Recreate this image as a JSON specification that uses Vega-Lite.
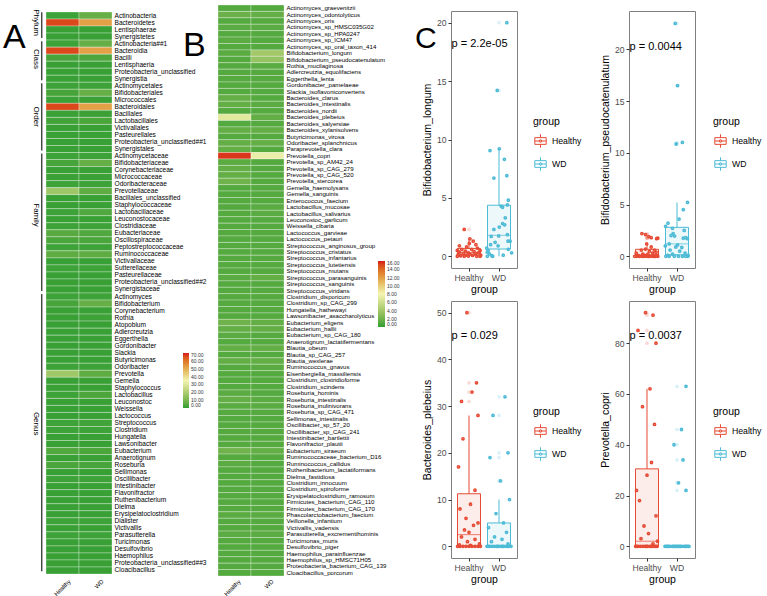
{
"$schema": "https://vega.github.io/schema/vega-lite/v6.json",
"padding": {"left": 3, "top": 4, "right": 0, "bottom": 0},
"background": "white",
"bounds": "flush",
"spacing": 106,
"config": {"view": {"stroke": null}, "font": "Liberation Sans", "axis": {"grid": false}},
"resolve": {"scale": {"color": "independent"}, "legend": {"color": "independent"}},
"datasets": {
"brk": [
{"lvl": "Phylum", "s": 0.05, "e": 3.7, "m": 1.5},
{"lvl": "Class", "s": 4.15, "e": 9.7, "m": 6.7},
{"lvl": "Order", "s": 10.15, "e": 19.7, "m": 14.9},
{"lvl": "Family", "s": 20.15, "e": 39.7, "m": 28.9},
{"lvl": "Genus", "s": 40.15, "e": 79.6, "m": 58.6}
],
"a": [
{"t": "Actinobacteria", "Healthy": 1.5, "WD": 7},
{"t": "Bacteroidetes", "Healthy": 66, "WD": 52},
{"t": "Lentisphaerae", "Healthy": 1, "WD": 1},
{"t": "Synergistetes", "Healthy": 1, "WD": 1},
{"t": "Actinobacteria##1", "Healthy": 1.5, "WD": 7},
{"t": "Bacteroidia", "Healthy": 66, "WD": 52},
{"t": "Bacilli", "Healthy": 2.5, "WD": 3.5},
{"t": "Lentisphaeria", "Healthy": 1, "WD": 1},
{"t": "Proteobacteria_unclassified", "Healthy": 1, "WD": 1},
{"t": "Synergistia", "Healthy": 1, "WD": 1},
{"t": "Actinomycetales", "Healthy": 1.5, "WD": 1.5},
{"t": "Bifidobacteriales", "Healthy": 2.5, "WD": 7},
{"t": "Micrococcales", "Healthy": 1.2, "WD": 1.2},
{"t": "Bacteroidales", "Healthy": 66, "WD": 52},
{"t": "Bacillales", "Healthy": 1.2, "WD": 1.2},
{"t": "Lactobacillales", "Healthy": 2, "WD": 3},
{"t": "Victivallales", "Healthy": 1, "WD": 1},
{"t": "Pasteurellales", "Healthy": 1, "WD": 1},
{"t": "Proteobacteria_unclassified##1", "Healthy": 1, "WD": 1},
{"t": "Synergistales", "Healthy": 1, "WD": 1},
{"t": "Actinomycetaceae", "Healthy": 1.5, "WD": 1.5},
{"t": "Bifidobacteriaceae", "Healthy": 2.5, "WD": 7},
{"t": "Corynebacteriaceae", "Healthy": 1, "WD": 1},
{"t": "Micrococcaceae", "Healthy": 1.2, "WD": 1.2},
{"t": "Odoribacteraceae", "Healthy": 1.5, "WD": 1.5},
{"t": "Prevotellaceae", "Healthy": 17, "WD": 6},
{"t": "Bacillales_unclassified", "Healthy": 1, "WD": 1},
{"t": "Staphylococcaceae", "Healthy": 1, "WD": 1},
{"t": "Lactobacillaceae", "Healthy": 1.5, "WD": 4},
{"t": "Leuconostocaceae", "Healthy": 1, "WD": 1},
{"t": "Clostridiaceae", "Healthy": 1.5, "WD": 1.5},
{"t": "Eubacteriaceae", "Healthy": 5, "WD": 4},
{"t": "Oscillospiraceae", "Healthy": 3, "WD": 3},
{"t": "Peptostreptococcaceae", "Healthy": 1.5, "WD": 1.5},
{"t": "Ruminococcaceae", "Healthy": 6, "WD": 6},
{"t": "Victivallaceae", "Healthy": 1, "WD": 1},
{"t": "Sutterellaceae", "Healthy": 1.5, "WD": 1.5},
{"t": "Pasteurellaceae", "Healthy": 1, "WD": 1},
{"t": "Proteobacteria_unclassified##2", "Healthy": 1, "WD": 1},
{"t": "Synergistaceae", "Healthy": 1, "WD": 1},
{"t": "Actinomyces", "Healthy": 1.5, "WD": 1.5},
{"t": "Bifidobacterium", "Healthy": 2.5, "WD": 7},
{"t": "Corynebacterium", "Healthy": 1, "WD": 1},
{"t": "Rothia", "Healthy": 1, "WD": 1.5},
{"t": "Atopobium", "Healthy": 1, "WD": 1},
{"t": "Adlercreutzia", "Healthy": 1, "WD": 1},
{"t": "Eggerthella", "Healthy": 1, "WD": 1},
{"t": "Gordonibacter", "Healthy": 1, "WD": 1},
{"t": "Slackia", "Healthy": 1, "WD": 1},
{"t": "Butyricimonas", "Healthy": 1, "WD": 1},
{"t": "Odoribacter", "Healthy": 1.5, "WD": 1.5},
{"t": "Prevotella", "Healthy": 17, "WD": 6},
{"t": "Gemella", "Healthy": 1, "WD": 1},
{"t": "Staphylococcus", "Healthy": 1, "WD": 1},
{"t": "Lactobacillus", "Healthy": 1.5, "WD": 3.5},
{"t": "Leuconostoc", "Healthy": 1, "WD": 1},
{"t": "Weissella", "Healthy": 1, "WD": 1},
{"t": "Lactococcus", "Healthy": 1, "WD": 1},
{"t": "Streptococcus", "Healthy": 1.5, "WD": 2},
{"t": "Clostridium", "Healthy": 1.5, "WD": 1.5},
{"t": "Hungatella", "Healthy": 1, "WD": 1},
{"t": "Lawsonibacter", "Healthy": 1, "WD": 1},
{"t": "Eubacterium", "Healthy": 4, "WD": 3},
{"t": "Anaerotignum", "Healthy": 1, "WD": 1},
{"t": "Roseburia", "Healthy": 3, "WD": 2.5},
{"t": "Sellimonas", "Healthy": 1, "WD": 1},
{"t": "Oscillibacter", "Healthy": 1.5, "WD": 1.5},
{"t": "Intestinibacter", "Healthy": 1, "WD": 1},
{"t": "Flavonifractor", "Healthy": 1, "WD": 1},
{"t": "Ruthenibacterium", "Healthy": 1, "WD": 1},
{"t": "Dielma", "Healthy": 1, "WD": 1},
{"t": "Erysipelatoclostridium", "Healthy": 1, "WD": 1},
{"t": "Dialister", "Healthy": 1.5, "WD": 1.5},
{"t": "Victivallis", "Healthy": 1, "WD": 1},
{"t": "Parasutterella", "Healthy": 1.5, "WD": 1.5},
{"t": "Turicimonas", "Healthy": 1, "WD": 1},
{"t": "Desulfovibrio", "Healthy": 1, "WD": 1},
{"t": "Haemophilus", "Healthy": 1, "WD": 1},
{"t": "Proteobacteria_unclassified##3", "Healthy": 1, "WD": 1},
{"t": "Cloacibacillus", "Healthy": 1, "WD": 1}
],
"b": [
{"t": "Actinomyces_graevenitzii", "Healthy": 1, "WD": 1},
{"t": "Actinomyces_odontolyticus", "Healthy": 1.8, "WD": 1.5},
{"t": "Actinomyces_oris", "Healthy": 1, "WD": 1},
{"t": "Actinomyces_sp_HMSC035G02", "Healthy": 1.2, "WD": 1.2},
{"t": "Actinomyces_sp_HPA0247", "Healthy": 1, "WD": 1},
{"t": "Actinomyces_sp_ICM47", "Healthy": 1.2, "WD": 1},
{"t": "Actinomyces_sp_oral_taxon_414", "Healthy": 1, "WD": 1},
{"t": "Bifidobacterium_longum", "Healthy": 1.2, "WD": 4},
{"t": "Bifidobacterium_pseudocatenulatum", "Healthy": 1, "WD": 3.5},
{"t": "Rothia_mucilaginosa", "Healthy": 1, "WD": 1.2},
{"t": "Adlercreutzia_equolifaciens", "Healthy": 1, "WD": 1},
{"t": "Eggerthella_lenta", "Healthy": 1, "WD": 1},
{"t": "Gordonibacter_pamelaeae", "Healthy": 1, "WD": 1},
{"t": "Slackia_isoflavoniconvertens", "Healthy": 1, "WD": 1},
{"t": "Bacteroides_clarus", "Healthy": 1.5, "WD": 1},
{"t": "Bacteroides_intestinalis", "Healthy": 1.5, "WD": 1.2},
{"t": "Bacteroides_nordii", "Healthy": 1, "WD": 1},
{"t": "Bacteroides_plebeius", "Healthy": 7, "WD": 1.5},
{"t": "Bacteroides_salyersiae", "Healthy": 1, "WD": 1},
{"t": "Bacteroides_xylanisolvens", "Healthy": 1.5, "WD": 1.5},
{"t": "Butyricimonas_virosa", "Healthy": 1, "WD": 1},
{"t": "Odoribacter_splanchnicus", "Healthy": 1.5, "WD": 1.5},
{"t": "Paraprevotella_clara", "Healthy": 1.5, "WD": 1},
{"t": "Prevotella_copri", "Healthy": 15.5, "WD": 7.5},
{"t": "Prevotella_sp_AM42_24", "Healthy": 1.2, "WD": 1},
{"t": "Prevotella_sp_CAG_279", "Healthy": 1.5, "WD": 1},
{"t": "Prevotella_sp_CAG_520", "Healthy": 1.5, "WD": 1},
{"t": "Prevotella_stercorea", "Healthy": 2, "WD": 1},
{"t": "Gemella_haemolysans", "Healthy": 1, "WD": 1},
{"t": "Gemella_sanguinis", "Healthy": 1, "WD": 1},
{"t": "Enterococcus_faecium", "Healthy": 1, "WD": 1},
{"t": "Lactobacillus_mucosae", "Healthy": 1, "WD": 1.2},
{"t": "Lactobacillus_salivarius", "Healthy": 1, "WD": 1.2},
{"t": "Leuconostoc_garlicum", "Healthy": 1, "WD": 1},
{"t": "Weissella_cibaria", "Healthy": 1, "WD": 1},
{"t": "Lactococcus_garvieae", "Healthy": 1, "WD": 1},
{"t": "Lactococcus_petauri", "Healthy": 1, "WD": 1},
{"t": "Streptococcus_anginosus_group", "Healthy": 1, "WD": 1},
{"t": "Streptococcus_cristatus", "Healthy": 1, "WD": 1},
{"t": "Streptococcus_infantarius", "Healthy": 1, "WD": 1},
{"t": "Streptococcus_lutetiensis", "Healthy": 1, "WD": 1},
{"t": "Streptococcus_mutans", "Healthy": 1, "WD": 1},
{"t": "Streptococcus_parasanguinis", "Healthy": 1.2, "WD": 1.5},
{"t": "Streptococcus_sanguinis", "Healthy": 1, "WD": 1},
{"t": "Streptococcus_viridans", "Healthy": 1, "WD": 1},
{"t": "Clostridium_disporicum", "Healthy": 1, "WD": 1},
{"t": "Clostridium_sp_CAG_299", "Healthy": 1, "WD": 1},
{"t": "Hungatella_hathewayi", "Healthy": 1, "WD": 1},
{"t": "Lawsonibacter_asaccharolyticus", "Healthy": 1, "WD": 1},
{"t": "Eubacterium_eligens", "Healthy": 2, "WD": 1.5},
{"t": "Eubacterium_hallii", "Healthy": 1.5, "WD": 1.5},
{"t": "Eubacterium_sp_CAG_180", "Healthy": 1.2, "WD": 1},
{"t": "Anaerotignum_lactatifermentans", "Healthy": 1, "WD": 1},
{"t": "Blautia_obeum", "Healthy": 1.5, "WD": 1.5},
{"t": "Blautia_sp_CAG_257", "Healthy": 1, "WD": 1},
{"t": "Blautia_wexlerae", "Healthy": 1.5, "WD": 1.5},
{"t": "Ruminococcus_gnavus", "Healthy": 1, "WD": 1.2},
{"t": "Eisenbergiella_massiliensis", "Healthy": 1, "WD": 1},
{"t": "Clostridium_clostridioforme", "Healthy": 1, "WD": 1},
{"t": "Clostridium_scindens", "Healthy": 1, "WD": 1},
{"t": "Roseburia_hominis", "Healthy": 1.2, "WD": 1},
{"t": "Roseburia_intestinalis", "Healthy": 1.5, "WD": 1.2},
{"t": "Roseburia_inulinivorans", "Healthy": 1.2, "WD": 1.2},
{"t": "Roseburia_sp_CAG_471", "Healthy": 1, "WD": 1},
{"t": "Sellimonas_intestinalis", "Healthy": 1, "WD": 1},
{"t": "Oscillibacter_sp_57_20", "Healthy": 1, "WD": 1},
{"t": "Oscillibacter_sp_CAG_241", "Healthy": 1, "WD": 1},
{"t": "Intestinibacter_bartlettii", "Healthy": 1, "WD": 1},
{"t": "Flavonifractor_plautii", "Healthy": 1, "WD": 1},
{"t": "Eubacterium_siraeum", "Healthy": 2, "WD": 1.5},
{"t": "Ruminococcaceae_bacterium_D16", "Healthy": 1, "WD": 1},
{"t": "Ruminococcus_callidus", "Healthy": 1.2, "WD": 1},
{"t": "Ruthenibacterium_lactatiformans", "Healthy": 1, "WD": 1},
{"t": "Dielma_fastidiosa", "Healthy": 1, "WD": 1},
{"t": "Clostridium_innocuum", "Healthy": 1, "WD": 1},
{"t": "Clostridium_spiroforme", "Healthy": 1, "WD": 1},
{"t": "Erysipelatoclostridium_ramosum", "Healthy": 1, "WD": 1},
{"t": "Firmicutes_bacterium_CAG_110", "Healthy": 1, "WD": 1},
{"t": "Firmicutes_bacterium_CAG_170", "Healthy": 1, "WD": 1},
{"t": "Phascolarctobacterium_faecium", "Healthy": 1.2, "WD": 1.2},
{"t": "Veillonella_infantium", "Healthy": 1, "WD": 1},
{"t": "Victivallis_vadensis", "Healthy": 1, "WD": 1},
{"t": "Parasutterella_excrementihominis", "Healthy": 1.2, "WD": 1.2},
{"t": "Turicimonas_muris", "Healthy": 1, "WD": 1},
{"t": "Desulfovibrio_piger", "Healthy": 1, "WD": 1},
{"t": "Haemophilus_parainfluenzae", "Healthy": 1, "WD": 1},
{"t": "Haemophilus_sp_HMSC71H05", "Healthy": 1, "WD": 1},
{"t": "Proteobacteria_bacterium_CAG_139", "Healthy": 1, "WD": 1},
{"t": "Cloacibacillus_porcorum", "Healthy": 1, "WD": 1}
],
"lab": [
{"sp": "lon", "p": "p = 2.2e-05", "L": "C"},
{"sp": "pse", "p": "p = 0.0044", "L": ""},
{"sp": "ple", "p": "p = 0.029", "L": ""},
{"sp": "cop", "p": "p = 0.0037", "L": ""}
],
"pts": [
{"sp":"lon","g":"Healthy","v":2.3,"x":0.84},{"sp":"lon","g":"Healthy","v":1.5,"x":1.03},{"sp":"lon","g":"Healthy","v":1.3,"x":1.14},{"sp":"lon","g":"Healthy","v":1.1,"x":1.01},{"sp":"lon","g":"Healthy","v":1.0,"x":1.23},{"sp":"lon","g":"Healthy","v":0.9,"x":0.68},{"sp":"lon","g":"Healthy","v":0.8,"x":0.92},{"sp":"lon","g":"Healthy","v":0.7,"x":1.28},{"sp":"lon","g":"Healthy","v":0.6,"x":0.76},{"sp":"lon","g":"Healthy","v":0.6,"x":1.09},{"sp":"lon","g":"Healthy","v":0.5,"x":0.61},{"sp":"lon","g":"Healthy","v":0.5,"x":1.37},{"sp":"lon","g":"Healthy","v":0.45,"x":0.88},{"sp":"lon","g":"Healthy","v":0.4,"x":1.17},{"sp":"lon","g":"Healthy","v":0.35,"x":0.68},{"sp":"lon","g":"Healthy","v":0.3,"x":0.98},{"sp":"lon","g":"Healthy","v":0.3,"x":1.31},{"sp":"lon","g":"Healthy","v":0.25,"x":0.81},{"sp":"lon","g":"Healthy","v":0.2,"x":1.03},{"sp":"lon","g":"Healthy","v":0.2,"x":1.21},{"sp":"lon","g":"Healthy","v":0.15,"x":0.64},{"sp":"lon","g":"Healthy","v":0.1,"x":0.9},{"sp":"lon","g":"Healthy","v":0.1,"x":1.39},{"sp":"lon","g":"Healthy","v":0.08,"x":1.12},{"sp":"lon","g":"Healthy","v":0.05,"x":0.72},{"sp":"lon","g":"Healthy","v":0.02,"x":0.98},{"sp":"lon","g":"Healthy","v":0,"x":1.26},{"sp":"lon","g":"Healthy","v":0,"x":0.84},{"sp":"lon","g":"Healthy","v":0,"x":1.37},{"sp":"lon","g":"Healthy","v":0,"x":0.61},
{"sp":"lon","g":"WD","v":20,"x":2.26},{"sp":"lon","g":"WD","v":14.2,"x":1.94},{"sp":"lon","g":"WD","v":9.2,"x":2.01},{"sp":"lon","g":"WD","v":9.05,"x":1.7},{"sp":"lon","g":"WD","v":8.3,"x":2.18},{"sp":"lon","g":"WD","v":6.9,"x":2.26},{"sp":"lon","g":"WD","v":6.7,"x":1.83},{"sp":"lon","g":"WD","v":4.8,"x":2.31},{"sp":"lon","g":"WD","v":4.4,"x":2.28},{"sp":"lon","g":"WD","v":4.3,"x":2.07},{"sp":"lon","g":"WD","v":4.2,"x":2.12},{"sp":"lon","g":"WD","v":3.3,"x":2.21},{"sp":"lon","g":"WD","v":2.8,"x":2.12},{"sp":"lon","g":"WD","v":2.7,"x":2.19},{"sp":"lon","g":"WD","v":2.5,"x":2.01},{"sp":"lon","g":"WD","v":2.3,"x":1.83},{"sp":"lon","g":"WD","v":1.85,"x":2.28},{"sp":"lon","g":"WD","v":1.75,"x":1.99},{"sp":"lon","g":"WD","v":1.7,"x":1.74},{"sp":"lon","g":"WD","v":1.3,"x":2.37},{"sp":"lon","g":"WD","v":1.3,"x":2.3},{"sp":"lon","g":"WD","v":1.2,"x":1.87},{"sp":"lon","g":"WD","v":1.0,"x":1.72},{"sp":"lon","g":"WD","v":0.9,"x":1.97},{"sp":"lon","g":"WD","v":0.7,"x":1.59},{"sp":"lon","g":"WD","v":0.6,"x":2.31},{"sp":"lon","g":"WD","v":0.5,"x":1.64},{"sp":"lon","g":"WD","v":0.35,"x":1.61},{"sp":"lon","g":"WD","v":0.3,"x":2.42},{"sp":"lon","g":"WD","v":0.2,"x":1.68},{"sp":"lon","g":"WD","v":0.1,"x":2.14},{"sp":"lon","g":"WD","v":0.05,"x":1.76},{"sp":"lon","g":"WD","v":0,"x":1.61},{"sp":"lon","g":"WD","v":0,"x":1.79},
{"sp":"pse","g":"Healthy","v":2.2,"x":0.83},{"sp":"pse","g":"Healthy","v":2.1,"x":0.95},{"sp":"pse","g":"Healthy","v":1.9,"x":1.06},{"sp":"pse","g":"Healthy","v":1.8,"x":1.14},{"sp":"pse","g":"Healthy","v":1.75,"x":1.36},{"sp":"pse","g":"Healthy","v":1.7,"x":1.32},{"sp":"pse","g":"Healthy","v":1.2,"x":0.99},{"sp":"pse","g":"Healthy","v":0.9,"x":1.14},{"sp":"pse","g":"Healthy","v":0.7,"x":0.95},{"sp":"pse","g":"Healthy","v":0.6,"x":0.81},{"sp":"pse","g":"Healthy","v":0.6,"x":1.25},{"sp":"pse","g":"Healthy","v":0.5,"x":1.08},{"sp":"pse","g":"Healthy","v":0.4,"x":1.3},{"sp":"pse","g":"Healthy","v":0.3,"x":0.64},{"sp":"pse","g":"Healthy","v":0.3,"x":1.19},{"sp":"pse","g":"Healthy","v":0.2,"x":0.86},{"sp":"pse","g":"Healthy","v":0.2,"x":1.03},{"sp":"pse","g":"Healthy","v":0.1,"x":0.7},{"sp":"pse","g":"Healthy","v":0.1,"x":0.92},{"sp":"pse","g":"Healthy","v":0.1,"x":1.32},{"sp":"pse","g":"Healthy","v":0.05,"x":1.0},{"sp":"pse","g":"Healthy","v":0.05,"x":1.2},{"sp":"pse","g":"Healthy","v":0,"x":0.59},{"sp":"pse","g":"Healthy","v":0,"x":0.75},{"sp":"pse","g":"Healthy","v":0,"x":0.84},{"sp":"pse","g":"Healthy","v":0,"x":0.99},{"sp":"pse","g":"Healthy","v":0,"x":1.1},{"sp":"pse","g":"Healthy","v":0,"x":1.19},{"sp":"pse","g":"Healthy","v":0,"x":1.28},{"sp":"pse","g":"Healthy","v":0,"x":1.36},{"sp":"pse","g":"Healthy","v":0,"x":0.66},{"sp":"pse","g":"Healthy","v":0,"x":0.9},{"sp":"pse","g":"Healthy","v":0,"x":1.05},{"sp":"pse","g":"Healthy","v":0,"x":1.24},
{"sp":"pse","g":"WD","v":22.5,"x":1.94},{"sp":"pse","g":"WD","v":16.5,"x":2.02},{"sp":"pse","g":"WD","v":11.0,"x":2.18},{"sp":"pse","g":"WD","v":10.85,"x":1.97},{"sp":"pse","g":"WD","v":5.2,"x":2.35},{"sp":"pse","g":"WD","v":4.5,"x":2.21},{"sp":"pse","g":"WD","v":3.6,"x":2.07},{"sp":"pse","g":"WD","v":3.2,"x":1.7},{"sp":"pse","g":"WD","v":2.9,"x":1.62},{"sp":"pse","g":"WD","v":2.7,"x":1.85},{"sp":"pse","g":"WD","v":2.5,"x":2.24},{"sp":"pse","g":"WD","v":2.2,"x":1.87},{"sp":"pse","g":"WD","v":2.0,"x":1.8},{"sp":"pse","g":"WD","v":1.95,"x":1.92},{"sp":"pse","g":"WD","v":1.8,"x":2.29},{"sp":"pse","g":"WD","v":1.75,"x":2.21},{"sp":"pse","g":"WD","v":1.7,"x":2.35},{"sp":"pse","g":"WD","v":1.2,"x":1.74},{"sp":"pse","g":"WD","v":1.1,"x":2.02},{"sp":"pse","g":"WD","v":1.0,"x":1.61},{"sp":"pse","g":"WD","v":0.9,"x":1.96},{"sp":"pse","g":"WD","v":0.85,"x":2.16},{"sp":"pse","g":"WD","v":0.6,"x":1.77},{"sp":"pse","g":"WD","v":0.5,"x":2.09},{"sp":"pse","g":"WD","v":0.3,"x":2.27},{"sp":"pse","g":"WD","v":0.2,"x":1.85},{"sp":"pse","g":"WD","v":0.1,"x":1.69},{"sp":"pse","g":"WD","v":0.1,"x":2.37},{"sp":"pse","g":"WD","v":0,"x":1.63},{"sp":"pse","g":"WD","v":0,"x":1.74},{"sp":"pse","g":"WD","v":0,"x":1.91},{"sp":"pse","g":"WD","v":0,"x":2.05},{"sp":"pse","g":"WD","v":0,"x":2.18},{"sp":"pse","g":"WD","v":0,"x":2.29},{"sp":"pse","g":"WD","v":0,"x":2.36},
{"sp":"ple","g":"Healthy","v":50,"x":0.93},{"sp":"ple","g":"Healthy","v":35,"x":1.25},{"sp":"ple","g":"Healthy","v":33,"x":1.1},{"sp":"ple","g":"Healthy","v":31,"x":0.75},{"sp":"ple","g":"Healthy","v":28,"x":1.3},{"sp":"ple","g":"Healthy","v":23,"x":0.8},{"sp":"ple","g":"Healthy","v":17,"x":0.65},{"sp":"ple","g":"Healthy","v":12,"x":1.2},{"sp":"ple","g":"Healthy","v":9,"x":1.05},{"sp":"ple","g":"Healthy","v":8,"x":0.7},{"sp":"ple","g":"Healthy","v":6,"x":0.9},{"sp":"ple","g":"Healthy","v":5,"x":1.3},{"sp":"ple","g":"Healthy","v":4.5,"x":1.15},{"sp":"ple","g":"Healthy","v":3.5,"x":0.85},{"sp":"ple","g":"Healthy","v":3,"x":1.0},{"sp":"ple","g":"Healthy","v":2,"x":0.75},{"sp":"ple","g":"Healthy","v":1.5,"x":1.2},{"sp":"ple","g":"Healthy","v":1,"x":0.95},{"sp":"ple","g":"Healthy","v":0.5,"x":1.35},{"sp":"ple","g":"Healthy","v":0.3,"x":0.68},{"sp":"ple","g":"Healthy","v":0.2,"x":1.05},{"sp":"ple","g":"Healthy","v":0,"x":0.62},{"sp":"ple","g":"Healthy","v":0,"x":0.7},{"sp":"ple","g":"Healthy","v":0,"x":0.8},{"sp":"ple","g":"Healthy","v":0,"x":0.9},{"sp":"ple","g":"Healthy","v":0,"x":1.0},{"sp":"ple","g":"Healthy","v":0,"x":1.1},{"sp":"ple","g":"Healthy","v":0,"x":1.2},{"sp":"ple","g":"Healthy","v":0,"x":1.3},{"sp":"ple","g":"Healthy","v":0,"x":1.38},
{"sp":"ple","g":"WD","v":32,"x":2.2},{"sp":"ple","g":"WD","v":28,"x":1.8},{"sp":"ple","g":"WD","v":20,"x":2.3},{"sp":"ple","g":"WD","v":19,"x":1.7},{"sp":"ple","g":"WD","v":14,"x":2.05},{"sp":"ple","g":"WD","v":10,"x":2.35},{"sp":"ple","g":"WD","v":7,"x":1.9},{"sp":"ple","g":"WD","v":5,"x":2.15},{"sp":"ple","g":"WD","v":4,"x":1.65},{"sp":"ple","g":"WD","v":3,"x":2.25},{"sp":"ple","g":"WD","v":2,"x":1.85},{"sp":"ple","g":"WD","v":1.5,"x":2.1},{"sp":"ple","g":"WD","v":1,"x":1.75},{"sp":"ple","g":"WD","v":0.5,"x":2.3},{"sp":"ple","g":"WD","v":0,"x":1.6},{"sp":"ple","g":"WD","v":0,"x":1.68},{"sp":"ple","g":"WD","v":0,"x":1.76},{"sp":"ple","g":"WD","v":0,"x":1.84},{"sp":"ple","g":"WD","v":0,"x":1.92},{"sp":"ple","g":"WD","v":0,"x":2.0},{"sp":"ple","g":"WD","v":0,"x":2.08},{"sp":"ple","g":"WD","v":0,"x":2.16},{"sp":"ple","g":"WD","v":0,"x":2.24},{"sp":"ple","g":"WD","v":0,"x":2.32},{"sp":"ple","g":"WD","v":0,"x":2.4},{"sp":"ple","g":"WD","v":0,"x":1.64},{"sp":"ple","g":"WD","v":0,"x":1.96},{"sp":"ple","g":"WD","v":0,"x":2.12},{"sp":"ple","g":"WD","v":0,"x":2.28},
{"sp":"cop","g":"Healthy","v":92,"x":0.95},{"sp":"cop","g":"Healthy","v":91,"x":1.2},{"sp":"cop","g":"Healthy","v":85,"x":0.7},{"sp":"cop","g":"Healthy","v":80,"x":1.3},{"sp":"cop","g":"Healthy","v":62,"x":1.1},{"sp":"cop","g":"Healthy","v":55,"x":0.85},{"sp":"cop","g":"Healthy","v":48,"x":1.25},{"sp":"cop","g":"Healthy","v":33,"x":1.15},{"sp":"cop","g":"Healthy","v":28,"x":1.0},{"sp":"cop","g":"Healthy","v":22,"x":0.65},{"sp":"cop","g":"Healthy","v":18,"x":0.75},{"sp":"cop","g":"Healthy","v":12,"x":1.3},{"sp":"cop","g":"Healthy","v":8,"x":0.9},{"sp":"cop","g":"Healthy","v":5,"x":1.05},{"sp":"cop","g":"Healthy","v":3,"x":0.8},{"sp":"cop","g":"Healthy","v":2,"x":1.35},{"sp":"cop","g":"Healthy","v":1,"x":1.2},{"sp":"cop","g":"Healthy","v":0,"x":0.62},{"sp":"cop","g":"Healthy","v":0,"x":0.7},{"sp":"cop","g":"Healthy","v":0,"x":0.78},{"sp":"cop","g":"Healthy","v":0,"x":0.86},{"sp":"cop","g":"Healthy","v":0,"x":0.94},{"sp":"cop","g":"Healthy","v":0,"x":1.02},{"sp":"cop","g":"Healthy","v":0,"x":1.1},{"sp":"cop","g":"Healthy","v":0,"x":1.18},{"sp":"cop","g":"Healthy","v":0,"x":1.26},{"sp":"cop","g":"Healthy","v":0,"x":1.34},{"sp":"cop","g":"Healthy","v":0,"x":0.66},{"sp":"cop","g":"Healthy","v":0,"x":0.98},{"sp":"cop","g":"Healthy","v":0,"x":1.14},{"sp":"cop","g":"Healthy","v":0,"x":1.3},
{"sp":"cop","g":"WD","v":63,"x":2.3},{"sp":"cop","g":"WD","v":46,"x":2.15},{"sp":"cop","g":"WD","v":40,"x":1.9},{"sp":"cop","g":"WD","v":34,"x":2.2},{"sp":"cop","g":"WD","v":25,"x":2.05},{"sp":"cop","g":"WD","v":22,"x":2.3},{"sp":"cop","g":"WD","v":0,"x":1.6},{"sp":"cop","g":"WD","v":0,"x":1.68},{"sp":"cop","g":"WD","v":0,"x":1.76},{"sp":"cop","g":"WD","v":0,"x":1.84},{"sp":"cop","g":"WD","v":0,"x":1.92},{"sp":"cop","g":"WD","v":0,"x":2.0},{"sp":"cop","g":"WD","v":0,"x":2.08},{"sp":"cop","g":"WD","v":0,"x":2.16},{"sp":"cop","g":"WD","v":0,"x":2.24},{"sp":"cop","g":"WD","v":0,"x":2.32},{"sp":"cop","g":"WD","v":0,"x":2.4},{"sp":"cop","g":"WD","v":0,"x":1.64},{"sp":"cop","g":"WD","v":0,"x":1.72},{"sp":"cop","g":"WD","v":0,"x":1.88},{"sp":"cop","g":"WD","v":0,"x":1.96},{"sp":"cop","g":"WD","v":0,"x":2.04},{"sp":"cop","g":"WD","v":0,"x":2.12},{"sp":"cop","g":"WD","v":0,"x":2.28},{"sp":"cop","g":"WD","v":0,"x":2.36}
]
},
"hconcat": [
{
"width": 66, "height": 571,
"layer": [
{
"data": {"name": "a"},
"transform": [{"fold": ["Healthy", "WD"], "as": ["g", "v"]}],
"mark": {"type": "rect", "stroke": "white", "strokeWidth": 0.5, "strokeOpacity": 0.6},
"encoding": {
"x": {"field": "g", "type": "nominal", "sort": ["Healthy", "WD"], "scale": {"paddingInner": 0, "paddingOuter": 0}, "axis": {"title": null, "labelAngle": -45, "labelFontSize": 6, "ticks": false, "domain": false, "labelPadding": 2, "labelOffset": 5, "labelColor": "black"}},
"y": {"field": "t", "type": "nominal", "sort": null, "scale": {"range": [7, 569], "paddingInner": 0, "paddingOuter": 0}, "axis": {"orient": "right", "title": null, "ticks": false, "domain": false, "labelFontSize": 6.6, "labelPadding": 2, "labelLimit": 0, "labelColor": "black"}},
"color": {"field": "v", "type": "quantitative", "scale": {"domain": [0, 35, 70], "range": ["#2f9e33", "#f4f4b2", "#d7191c"]},
 "legend": {"orient": "none", "legendX": 137, "legendY": 348, "direction": "vertical", "title": null, "gradientLength": 55, "gradientThickness": 6, "gradientStrokeWidth": 0, "values": [0, 10, 20, 30, 40, 50, 60, 70], "format": ".2f", "labelFontSize": 5, "labelOffset": 2, "labelOverlap": false, "labelColor": "#333333"}}
}
},
{
"layer": [
{"data": {"name": "brk"}, "mark": {"type": "rule", "color": "#333333", "strokeWidth": 1.3},
 "encoding": {"x": {"datum": 0.86, "type": "quantitative", "scale": {"domain": [0, 1], "range": [-18, -2]}, "axis": null},
  "y": {"field": "s", "type": "quantitative", "scale": {"domain": [0, 80], "range": [7, 569]}, "axis": null},
  "y2": {"field": "e"}}},
{"data": {"name": "brk"}, "mark": {"type": "text", "angle": 90, "fontSize": 8, "align": "center", "baseline": "middle", "color": "black"},
 "encoding": {"x": {"datum": 0.53, "type": "quantitative"}, "y": {"field": "m", "type": "quantitative"}, "text": {"field": "lvl"}}},
{"data": {"values": [{"L": "A"}]}, "mark": {"type": "text", "fontSize": 34, "align": "left", "baseline": "alphabetic", "color": "black"},
 "encoding": {"x": {"datum": -1.56, "type": "quantitative"}, "y": {"datum": 5.12, "type": "quantitative"}, "text": {"field": "L"}}}
]
}
],
"resolve": {"scale": {"x": "independent", "y": "independent"}, "axis": {"x": "independent", "y": "independent"}}
},
{
"width": 127, "height": 571,
"layer": [
{
"data": {"name": "b"},
"transform": [{"fold": ["Healthy", "WD"], "as": ["g", "v"]}],
"mark": {"type": "rect", "stroke": "white", "strokeWidth": 0.5, "strokeOpacity": 0.6},
"encoding": {
"x": {"field": "g", "type": "nominal", "sort": ["Healthy", "WD"], "scale": {"range": [0, 66], "paddingInner": 0, "paddingOuter": 0}, "axis": {"title": null, "labelAngle": -45, "labelFontSize": 6, "ticks": false, "domain": false, "labelPadding": 2, "labelOffset": 3, "labelColor": "black"}},
"y": {"field": "t", "type": "nominal", "sort": null, "scale": {"paddingInner": 0, "paddingOuter": 0}, "axis": {"orient": "right", "offset": -61, "title": null, "ticks": false, "domain": false, "labelFontSize": 6.1, "labelPadding": 2, "labelLimit": 0, "labelColor": "black"}},
"color": {"field": "v", "type": "quantitative", "scale": {"domain": [0, 8, 16], "range": ["#2f9e33", "#f4f4b2", "#d7191c"]},
 "legend": {"orient": "none", "legendX": 160, "legendY": 256, "direction": "vertical", "title": null, "gradientLength": 66, "gradientThickness": 7, "gradientStrokeWidth": 0, "values": [0, 2, 4, 6, 8, 10, 12, 14, 16], "format": ".2f", "labelFontSize": 5, "labelOffset": 2, "labelOverlap": false, "labelColor": "#333333"}}
}
},
{"data": {"values": [{"L": "B"}]}, "mark": {"type": "text", "fontSize": 34, "align": "left", "baseline": "alphabetic", "color": "black"},
 "encoding": {"x": {"datum": -35, "type": "quantitative", "scale": {"domain": [0, 100], "range": [0, 100]}, "axis": null}, "y": {"datum": 51, "type": "quantitative", "scale": {"domain": [0, 100], "range": [0, 100]}, "axis": null}, "text": {"field": "L"}}}
],
"resolve": {"scale": {"x": "independent", "y": "independent"}, "axis": {"x": "independent", "y": "independent"}}
},
{
"bounds": "flush", "spacing": 0,
"resolve": {"scale": {"color": "independent"}, "legend": {"color": "independent"}},
"vconcat": [
{"width": 66, "height": 6, "data": {"values": []}, "mark": "point"},
{
"bounds": "flush", "columns": 2, "spacing": {"row": 33, "column": 112},
"resolve": {"scale": {"color": "independent"}, "legend": {"color": "independent"}},
"concat": [
{
"width": 66, "height": 257,
"view": {"stroke": "#808080", "strokeWidth": 1},
"layer": [
{"data": {"name": "pts"}, "transform": [{"filter": "datum.sp == 'lon'"}],
 "encoding": {"y": {"field": "v", "type": "quantitative", "scale": {"domain": [-1, 21], "nice": false, "zero": false}, "axis": {"title": "Bifidobacterium_longum", "values": [0, 5, 10, 15, 20], "labelFontSize": 8.6, "labelColor": "#4d4d4d", "tickColor": "#333333", "tickSize": 3, "domain": false, "titleFontSize": 10.5, "titleFontWeight": "normal", "titleColor": "black", "labelPadding": 2, "titlePadding": 4}}},
 "layer": [
{"transform": [{"filter": "datum.g == 'Healthy'"}], "mark": {"type": "boxplot", "extent": 1.5, "size": 23, "outliers": {"color": "#E64B35", "filled": true, "size": 14, "opacity": 0.2}, "box": {"fill": "#E64B35", "fillOpacity": 0.1, "stroke": "#E64B35", "strokeWidth": 1}, "median": {"color": "#E64B35", "strokeWidth": 1.2}, "rule": {"color": "#E64B35", "strokeWidth": 1}}, "encoding": {"x": {"field": "g", "type": "nominal", "scale": {"type": "band", "domain": ["Healthy", "WD"], "paddingInner": 0, "paddingOuter": 0.1}, "axis": {"title": "group", "labelAngle": 0, "labelFontSize": 8.6, "labelColor": "#4d4d4d", "tickColor": "#333333", "tickSize": 3, "domain": false, "titleFontSize": 10.5, "titleFontWeight": "normal", "titleColor": "black", "labelPadding": 2, "titlePadding": 3}}}},
{"transform": [{"filter": "datum.g == 'WD'"}], "mark": {"type": "boxplot", "extent": 1.5, "size": 23, "outliers": {"color": "#4DBBD5", "filled": true, "size": 14, "opacity": 0.2}, "box": {"fill": "#4DBBD5", "fillOpacity": 0.1, "stroke": "#4DBBD5", "strokeWidth": 1}, "median": {"color": "#4DBBD5", "strokeWidth": 1.2}, "rule": {"color": "#4DBBD5", "strokeWidth": 1}}, "encoding": {"x": {"field": "g", "type": "nominal"}}}
]},
{"layer": [
{"data": {"name": "pts"}, "transform": [{"filter": "datum.sp == 'lon'"}], "mark": {"type": "point", "filled": false, "size": 2.5, "strokeWidth": 2.2, "opacity": 1}, "encoding": {"x": {"field": "x", "type": "quantitative", "scale": {"domain": [0.4, 2.6], "nice": false, "zero": false}, "axis": null}, "y": {"field": "v", "type": "quantitative", "scale": {"domain": [-1, 21], "nice": false, "zero": false}}, "color": {"field": "g", "type": "nominal", "scale": {"domain": ["Healthy", "WD"], "range": ["#E64B35", "#4DBBD5"]}, "legend": {"orient": "none", "legendX": 82, "legendY": 106, "title": "group", "titleFontSize": 10.5, "titleFontWeight": "normal", "titleColor": "black", "labelFontSize": 8.7, "labelColor": "black", "symbolType": "M-0.85,-0.5H0.85V0.5H-0.85Z M-0.85,0H0.85 M0,-0.5V-1 M0,0.5V1 M0.2,0A0.2,0.2 0 1,1 -0.2,0A0.2,0.2 0 1,1 0.2,0", "symbolSize": 180, "symbolStrokeWidth": 1, "rowPadding": 4, "titlePadding": 6}}}},
{"data": {"name": "lab"}, "transform": [{"filter": "datum.sp == 'lon'"}], "mark": {"type": "text", "align": "left", "baseline": "middle", "fontSize": 11, "color": "black"}, "encoding": {"x": {"datum": 0.42, "type": "quantitative"}, "y": {"datum": 18.2, "type": "quantitative"}, "text": {"field": "p"}}},
{"data": {"name": "lab"}, "transform": [{"filter": "datum.sp == 'lon'"}], "mark": {"type": "text", "align": "left", "baseline": "alphabetic", "fontSize": 30, "color": "black"}, "encoding": {"x": {"datum": -0.8, "type": "quantitative"}, "y": {"datum": 17.83, "type": "quantitative"}, "text": {"field": "L"}}}
]}
],
"resolve": {"scale": {"x": "independent"}, "axis": {"x": "independent"}}
},
{
"width": 66, "height": 257,
"view": {"stroke": "#808080", "strokeWidth": 1},
"layer": [
{"data": {"name": "pts"}, "transform": [{"filter": "datum.sp == 'pse'"}],
 "encoding": {"y": {"field": "v", "type": "quantitative", "scale": {"domain": [-1.13, 23.7], "nice": false, "zero": false}, "axis": {"title": "Bifidobacterium_pseudocatenulatum", "values": [0, 5, 10, 15, 20], "labelFontSize": 8.6, "labelColor": "#4d4d4d", "tickColor": "#333333", "tickSize": 3, "domain": false, "titleFontSize": 10.5, "titleFontWeight": "normal", "titleColor": "black", "labelPadding": 2, "titlePadding": 4}}},
 "layer": [
{"transform": [{"filter": "datum.g == 'Healthy'"}], "mark": {"type": "boxplot", "extent": 1.5, "size": 23, "outliers": {"color": "#E64B35", "filled": true, "size": 14, "opacity": 0.2}, "box": {"fill": "#E64B35", "fillOpacity": 0.1, "stroke": "#E64B35", "strokeWidth": 1}, "median": {"color": "#E64B35", "strokeWidth": 1.2}, "rule": {"color": "#E64B35", "strokeWidth": 1}}, "encoding": {"x": {"field": "g", "type": "nominal", "scale": {"type": "band", "domain": ["Healthy", "WD"], "paddingInner": 0, "paddingOuter": 0.1}, "axis": {"title": "group", "labelAngle": 0, "labelFontSize": 8.6, "labelColor": "#4d4d4d", "tickColor": "#333333", "tickSize": 3, "domain": false, "titleFontSize": 10.5, "titleFontWeight": "normal", "titleColor": "black", "labelPadding": 2, "titlePadding": 3}}}},
{"transform": [{"filter": "datum.g == 'WD'"}], "mark": {"type": "boxplot", "extent": 1.5, "size": 23, "outliers": {"color": "#4DBBD5", "filled": true, "size": 14, "opacity": 0.2}, "box": {"fill": "#4DBBD5", "fillOpacity": 0.1, "stroke": "#4DBBD5", "strokeWidth": 1}, "median": {"color": "#4DBBD5", "strokeWidth": 1.2}, "rule": {"color": "#4DBBD5", "strokeWidth": 1}}, "encoding": {"x": {"field": "g", "type": "nominal"}}}
]},
{"layer": [
{"data": {"name": "pts"}, "transform": [{"filter": "datum.sp == 'pse'"}], "mark": {"type": "point", "filled": false, "size": 2.5, "strokeWidth": 2.2, "opacity": 1}, "encoding": {"x": {"field": "x", "type": "quantitative", "scale": {"domain": [0.4, 2.6], "nice": false, "zero": false}, "axis": null}, "y": {"field": "v", "type": "quantitative", "scale": {"domain": [-1.13, 23.7], "nice": false, "zero": false}}, "color": {"field": "g", "type": "nominal", "scale": {"domain": ["Healthy", "WD"], "range": ["#E64B35", "#4DBBD5"]}, "legend": {"orient": "none", "legendX": 84, "legendY": 106, "title": "group", "titleFontSize": 10.5, "titleFontWeight": "normal", "titleColor": "black", "labelFontSize": 8.7, "labelColor": "black", "symbolType": "M-0.85,-0.5H0.85V0.5H-0.85Z M-0.85,0H0.85 M0,-0.5V-1 M0,0.5V1 M0.2,0A0.2,0.2 0 1,1 -0.2,0A0.2,0.2 0 1,1 0.2,0", "symbolSize": 180, "symbolStrokeWidth": 1, "rowPadding": 4, "titlePadding": 6}}}},
{"data": {"name": "lab"}, "transform": [{"filter": "datum.sp == 'pse'"}], "mark": {"type": "text", "align": "left", "baseline": "middle", "fontSize": 11, "color": "black"}, "encoding": {"x": {"datum": 0.42, "type": "quantitative"}, "y": {"datum": 20.25, "type": "quantitative"}, "text": {"field": "p"}}}
]}
],
"resolve": {"scale": {"x": "independent"}, "axis": {"x": "independent"}}
},
{
"width": 66, "height": 257,
"view": {"stroke": "#808080", "strokeWidth": 1},
"layer": [
{"data": {"name": "pts"}, "transform": [{"filter": "datum.sp == 'ple'"}],
 "encoding": {"y": {"field": "v", "type": "quantitative", "scale": {"domain": [-2.5, 52.5], "nice": false, "zero": false}, "axis": {"title": "Bacteroides_plebeius", "values": [0, 10, 20, 30, 40, 50], "labelFontSize": 8.6, "labelColor": "#4d4d4d", "tickColor": "#333333", "tickSize": 3, "domain": false, "titleFontSize": 10.5, "titleFontWeight": "normal", "titleColor": "black", "labelPadding": 2, "titlePadding": 4}}},
 "layer": [
{"transform": [{"filter": "datum.g == 'Healthy'"}], "mark": {"type": "boxplot", "extent": 1.5, "size": 23, "outliers": {"color": "#E64B35", "filled": true, "size": 14, "opacity": 0.2}, "box": {"fill": "#E64B35", "fillOpacity": 0.1, "stroke": "#E64B35", "strokeWidth": 1}, "median": {"color": "#E64B35", "strokeWidth": 1.2}, "rule": {"color": "#E64B35", "strokeWidth": 1}}, "encoding": {"x": {"field": "g", "type": "nominal", "scale": {"type": "band", "domain": ["Healthy", "WD"], "paddingInner": 0, "paddingOuter": 0.1}, "axis": {"title": "group", "labelAngle": 0, "labelFontSize": 8.6, "labelColor": "#4d4d4d", "tickColor": "#333333", "tickSize": 3, "domain": false, "titleFontSize": 10.5, "titleFontWeight": "normal", "titleColor": "black", "labelPadding": 2, "titlePadding": 3}}}},
{"transform": [{"filter": "datum.g == 'WD'"}], "mark": {"type": "boxplot", "extent": 1.5, "size": 23, "outliers": {"color": "#4DBBD5", "filled": true, "size": 14, "opacity": 0.2}, "box": {"fill": "#4DBBD5", "fillOpacity": 0.1, "stroke": "#4DBBD5", "strokeWidth": 1}, "median": {"color": "#4DBBD5", "strokeWidth": 1.2}, "rule": {"color": "#4DBBD5", "strokeWidth": 1}}, "encoding": {"x": {"field": "g", "type": "nominal"}}}
]},
{"layer": [
{"data": {"name": "pts"}, "transform": [{"filter": "datum.sp == 'ple'"}], "mark": {"type": "point", "filled": false, "size": 2.5, "strokeWidth": 2.2, "opacity": 1}, "encoding": {"x": {"field": "x", "type": "quantitative", "scale": {"domain": [0.4, 2.6], "nice": false, "zero": false}, "axis": null}, "y": {"field": "v", "type": "quantitative", "scale": {"domain": [-2.5, 52.5], "nice": false, "zero": false}}, "color": {"field": "g", "type": "nominal", "scale": {"domain": ["Healthy", "WD"], "range": ["#E64B35", "#4DBBD5"]}, "legend": {"orient": "none", "legendX": 82, "legendY": 106, "title": "group", "titleFontSize": 10.5, "titleFontWeight": "normal", "titleColor": "black", "labelFontSize": 8.7, "labelColor": "black", "symbolType": "M-0.85,-0.5H0.85V0.5H-0.85Z M-0.85,0H0.85 M0,-0.5V-1 M0,0.5V1 M0.2,0A0.2,0.2 0 1,1 -0.2,0A0.2,0.2 0 1,1 0.2,0", "symbolSize": 180, "symbolStrokeWidth": 1, "rowPadding": 4, "titlePadding": 6}}}},
{"data": {"name": "lab"}, "transform": [{"filter": "datum.sp == 'ple'"}], "mark": {"type": "text", "align": "left", "baseline": "middle", "fontSize": 11, "color": "black"}, "encoding": {"x": {"datum": 0.42, "type": "quantitative"}, "y": {"datum": 45, "type": "quantitative"}, "text": {"field": "p"}}}
]}
],
"resolve": {"scale": {"x": "independent"}, "axis": {"x": "independent"}}
},
{
"width": 66, "height": 257,
"view": {"stroke": "#808080", "strokeWidth": 1},
"layer": [
{"data": {"name": "pts"}, "transform": [{"filter": "datum.sp == 'cop'"}],
 "encoding": {"y": {"field": "v", "type": "quantitative", "scale": {"domain": [-4.6, 96.6], "nice": false, "zero": false}, "axis": {"title": "Prevotella_copri", "values": [0, 20, 40, 60, 80], "labelFontSize": 8.6, "labelColor": "#4d4d4d", "tickColor": "#333333", "tickSize": 3, "domain": false, "titleFontSize": 10.5, "titleFontWeight": "normal", "titleColor": "black", "labelPadding": 2, "titlePadding": 4}}},
 "layer": [
{"transform": [{"filter": "datum.g == 'Healthy'"}], "mark": {"type": "boxplot", "extent": 1.5, "size": 23, "outliers": {"color": "#E64B35", "filled": true, "size": 14, "opacity": 0.2}, "box": {"fill": "#E64B35", "fillOpacity": 0.1, "stroke": "#E64B35", "strokeWidth": 1}, "median": {"color": "#E64B35", "strokeWidth": 1.2}, "rule": {"color": "#E64B35", "strokeWidth": 1}}, "encoding": {"x": {"field": "g", "type": "nominal", "scale": {"type": "band", "domain": ["Healthy", "WD"], "paddingInner": 0, "paddingOuter": 0.1}, "axis": {"title": "group", "labelAngle": 0, "labelFontSize": 8.6, "labelColor": "#4d4d4d", "tickColor": "#333333", "tickSize": 3, "domain": false, "titleFontSize": 10.5, "titleFontWeight": "normal", "titleColor": "black", "labelPadding": 2, "titlePadding": 3}}}},
{"transform": [{"filter": "datum.g == 'WD'"}], "mark": {"type": "boxplot", "extent": 1.5, "size": 23, "outliers": {"color": "#4DBBD5", "filled": true, "size": 14, "opacity": 0.2}, "box": {"fill": "#4DBBD5", "fillOpacity": 0.1, "stroke": "#4DBBD5", "strokeWidth": 1}, "median": {"color": "#4DBBD5", "strokeWidth": 1.2}, "rule": {"color": "#4DBBD5", "strokeWidth": 1}}, "encoding": {"x": {"field": "g", "type": "nominal"}}}
]},
{"layer": [
{"data": {"name": "pts"}, "transform": [{"filter": "datum.sp == 'cop'"}], "mark": {"type": "point", "filled": false, "size": 2.5, "strokeWidth": 2.2, "opacity": 1}, "encoding": {"x": {"field": "x", "type": "quantitative", "scale": {"domain": [0.4, 2.6], "nice": false, "zero": false}, "axis": null}, "y": {"field": "v", "type": "quantitative", "scale": {"domain": [-4.6, 96.6], "nice": false, "zero": false}}, "color": {"field": "g", "type": "nominal", "scale": {"domain": ["Healthy", "WD"], "range": ["#E64B35", "#4DBBD5"]}, "legend": {"orient": "none", "legendX": 84, "legendY": 106, "title": "group", "titleFontSize": 10.5, "titleFontWeight": "normal", "titleColor": "black", "labelFontSize": 8.7, "labelColor": "black", "symbolType": "M-0.85,-0.5H0.85V0.5H-0.85Z M-0.85,0H0.85 M0,-0.5V-1 M0,0.5V1 M0.2,0A0.2,0.2 0 1,1 -0.2,0A0.2,0.2 0 1,1 0.2,0", "symbolSize": 180, "symbolStrokeWidth": 1, "rowPadding": 4, "titlePadding": 6}}}},
{"data": {"name": "lab"}, "transform": [{"filter": "datum.sp == 'cop'"}], "mark": {"type": "text", "align": "left", "baseline": "middle", "fontSize": 11, "color": "black"}, "encoding": {"x": {"datum": 0.42, "type": "quantitative"}, "y": {"datum": 82.8, "type": "quantitative"}, "text": {"field": "p"}}}
]}
],
"resolve": {"scale": {"x": "independent"}, "axis": {"x": "independent"}}
}
]
}
]
}
]
}
